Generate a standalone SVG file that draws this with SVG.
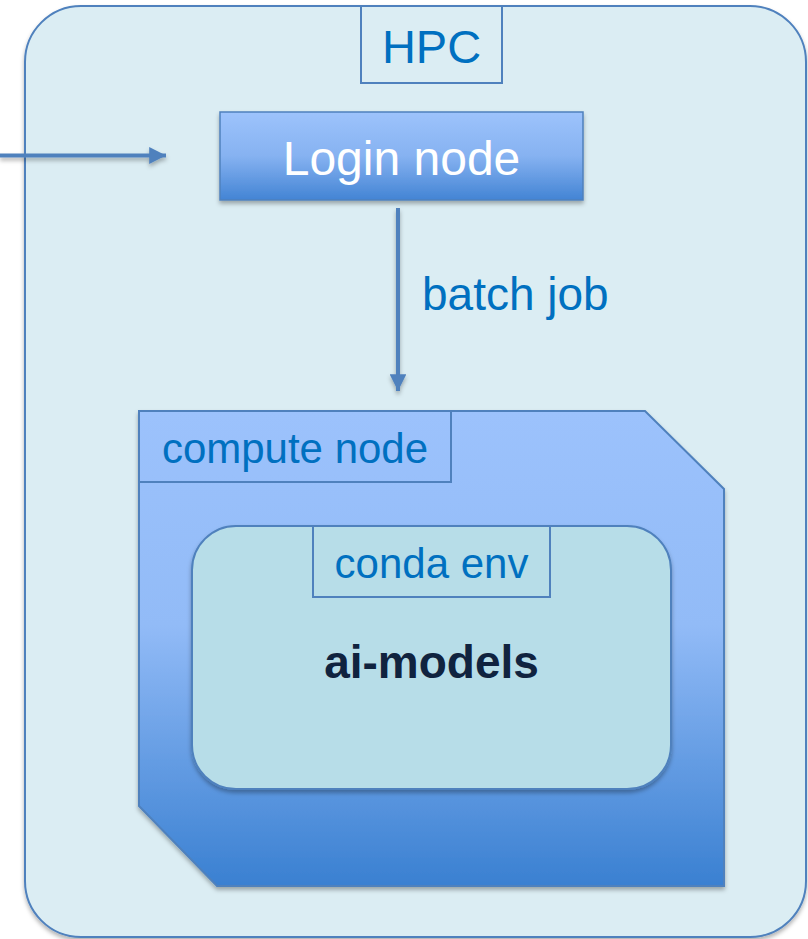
<svg xmlns="http://www.w3.org/2000/svg" width="808" height="939" viewBox="0 0 808 939">
  <style>
    .frame { stroke: #4f81bd; stroke-width: 2; }
    .tag { fill: none; stroke: #4f81bd; stroke-width: 2; }
    .lbl { font-family: "Liberation Sans", Arial, sans-serif; fill: #0070c0; text-anchor: middle; }
    .conn { stroke: #4f81bd; stroke-width: 4; fill: none; }
  </style>
  <defs>
    <linearGradient id="gLogin" x1="0" y1="0" x2="0" y2="1">
      <stop offset="0" stop-color="#9dc3fc"/>
      <stop offset="0.5" stop-color="#86b2f1"/>
      <stop offset="1" stop-color="#4384d4"/>
    </linearGradient>
    <linearGradient id="gCompute" x1="0" y1="0" x2="0" y2="1">
      <stop offset="0" stop-color="#9cc2fc"/>
      <stop offset="0.45" stop-color="#92bbf7"/>
      <stop offset="1" stop-color="#3a80d1"/>
    </linearGradient>
    <filter id="shadow" x="-10%" y="-10%" width="120%" height="125%">
      <feDropShadow dx="0" dy="3" stdDeviation="2" flood-color="#000" flood-opacity="0.3"/>
    </filter>
    <marker id="arrow" viewBox="0 0 10 10" refX="10" refY="5" markerWidth="4.2" markerHeight="4.2" orient="auto" markerUnits="strokeWidth">
      <path d="M0,0 L10,5 L0,10 z" fill="#4f81bd"/>
    </marker>
  </defs>

  <rect width="808" height="939" fill="#ffffff"/>

  <!-- HPC cluster container -->
  <g id="hpc">
    <rect x="25" y="6" width="781" height="931" rx="56" ry="56" fill="#dbedf3" class="frame" filter="url(#shadow)"/>
    <rect x="361" y="6" width="141" height="77" class="tag"/>
    <text x="431.5" y="63" class="lbl" font-size="47">HPC</text>
  </g>

  <!-- Connectors -->
  <g id="connectors">
    <g filter="url(#shadow)">
      <line x1="0" y1="155.5" x2="166" y2="155.5" class="conn" marker-end="url(#arrow)"/>
      <line x1="398" y1="208" x2="398" y2="391" class="conn" marker-end="url(#arrow)"/>
    </g>
    <text x="422" y="310" class="lbl" font-size="46" style="text-anchor:start">batch job</text>
  </g>

  <!-- Login node -->
  <g id="login-node">
    <rect x="220" y="112" width="363" height="88" fill="url(#gLogin)" stroke="#4f81bd" stroke-width="1.5" filter="url(#shadow)"/>
    <text x="401.5" y="175" font-family="Liberation Sans, Arial, sans-serif" font-size="48" fill="#ffffff" text-anchor="middle">Login node</text>
  </g>

  <!-- Compute node -->
  <g id="compute-node">
    <polygon points="139,411 645,411 724,489 724,886 217,886 139,806" fill="url(#gCompute)" stroke="#4f81bd" stroke-width="2" filter="url(#shadow)"/>
    <rect x="139" y="411" width="312" height="71" class="tag"/>
    <text x="295" y="463" class="lbl" font-size="42">compute node</text>
  </g>

  <!-- Conda environment -->
  <g id="conda-env">
    <rect x="192" y="526" width="479" height="263" rx="44" ry="44" fill="#b7dde8" stroke="#4f81bd" stroke-width="2" filter="url(#shadow)"/>
    <rect x="313" y="526" width="237" height="71" class="tag"/>
    <text x="431.5" y="578" class="lbl" font-size="42">conda env</text>
    <text x="431.5" y="678" font-family="Liberation Sans, Arial, sans-serif" font-size="46" font-weight="bold" fill="#10233f" text-anchor="middle">ai-models</text>
  </g>
</svg>
